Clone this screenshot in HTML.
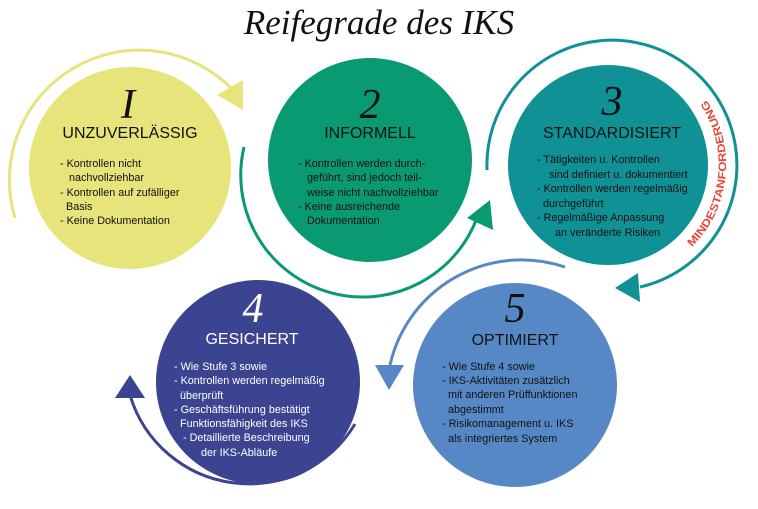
<!DOCTYPE html>
<html><head><meta charset="utf-8"><style>
html,body{margin:0;padding:0;background:#fff;}
svg{display:block;}
.h{font-family:"Liberation Sans",sans-serif;font-size:16px;text-anchor:middle;}
.b{font-family:"Liberation Sans",sans-serif;font-size:10.8px;}
.n{font-family:"Liberation Serif",serif;font-style:italic;font-size:42px;text-anchor:middle;}
</style></head><body>
<svg width="758" height="509" viewBox="0 0 758 509" xmlns="http://www.w3.org/2000/svg">
<text x="379" y="34" text-anchor="middle" font-family="Liberation Serif,serif" font-style="italic" font-size="35" fill="#111">Reifegrade des IKS</text>

<!-- arcs -->
<path d="M15 218 A130 130 0 0 1 233 90" fill="none" stroke="#e6e47a" stroke-width="3"/>
<polygon points="217,95 243,80 243,110" fill="#e6e47a"/>
<path d="M244 147 A122 122 0 0 0 478 215" fill="none" stroke="#0a9a72" stroke-width="3"/>
<polygon points="467,218 490,200 493,230" fill="#0a9a72"/>
<path d="M487 170 A125 125 0 1 1 640 287" fill="none" stroke="#0f9196" stroke-width="3"/>
<polygon points="615,288 638,273 640,302" fill="#0f9196"/>
<path d="M565 267 A135 135 0 0 0 389 370" fill="none" stroke="#5788c6" stroke-width="3"/>
<polygon points="375,365 404,365 389,390" fill="#5788c6"/>
<path d="M355 424 A124 124 0 0 1 130 395" fill="none" stroke="#3b4490" stroke-width="3"/>
<polygon points="115,398 145,398 130,375" fill="#3b4490"/>

<path id="mp" d="M692 247 A116 116 0 0 0 705 98" fill="none"/>
<text font-family="Liberation Sans,sans-serif" font-weight="bold" font-size="11" fill="#e8453c"><textPath href="#mp" textLength="160" lengthAdjust="spacingAndGlyphs">MINDESTANFORDERUNG</textPath></text>

<!-- circles -->
<circle cx="130" cy="168" r="101" fill="#e6e47a"/>
<circle cx="370" cy="160" r="102" fill="#0a9a72"/>
<circle cx="608" cy="165" r="100" fill="#0f9196"/>
<circle cx="258" cy="382" r="102" fill="#3b4490"/>
<circle cx="515" cy="385" r="102" fill="#5788c6"/>

<g fill="#111">
<text class="n" x="128" y="118">I</text>
<text class="h" x="130" y="138">UNZUVERLÄSSIG</text>
<text class="b" xml:space="preserve"><tspan x="60" y="167">- Kontrollen nicht</tspan><tspan x="60" y="181">   nachvollziehbar</tspan><tspan x="60" y="196">- Kontrollen auf zufälliger</tspan><tspan x="60" y="210">  Basis</tspan><tspan x="60" y="224">- Keine Dokumentation</tspan></text>

<text class="n" x="370" y="118">2</text>
<text class="h" x="370" y="138">INFORMELL</text>
<text class="b" xml:space="preserve"><tspan x="298" y="167">- Kontrollen werden durch-</tspan><tspan x="298" y="181">   geführt, sind jedoch teil-</tspan><tspan x="298" y="196">   weise nicht nachvollziehbar</tspan><tspan x="298" y="210">- Keine ausreichende</tspan><tspan x="298" y="224">   Dokumentation</tspan></text>

<text class="n" x="612" y="115">3</text>
<text class="h" x="612" y="138">STANDARDISIERT</text>
<text class="b" xml:space="preserve"><tspan x="537" y="163">- Tätigkeiten u. Kontrollen</tspan><tspan x="537" y="178">    sind definiert u. dokumentiert</tspan><tspan x="537" y="192">- Kontrollen werden regelmäßig</tspan><tspan x="537" y="207">  durchgeführt</tspan><tspan x="537" y="221">- Regelmäßige Anpassung</tspan><tspan x="537" y="236">      an veränderte Risiken</tspan></text>

<text class="n" x="515" y="322">5</text>
<text class="h" x="515" y="345">OPTIMIERT</text>
<text class="b" xml:space="preserve"><tspan x="442" y="370">- Wie Stufe 4 sowie</tspan><tspan x="442" y="384">- IKS-Aktivitäten zusätzlich</tspan><tspan x="442" y="398">  mit anderen Prüffunktionen</tspan><tspan x="442" y="413">  abgestimmt</tspan><tspan x="442" y="427">- Risikomanagement u. IKS</tspan><tspan x="442" y="442">  als integriertes System</tspan></text>
</g>
<g fill="#fff">
<text class="n" x="253" y="322">4</text>
<text class="h" x="252" y="344">GESICHERT</text>
<text class="b" xml:space="preserve"><tspan x="174" y="370">- Wie Stufe 3 sowie</tspan><tspan x="174" y="384">- Kontrollen werden regelmäßig</tspan><tspan x="174" y="399">  überprüft</tspan><tspan x="174" y="413">- Geschäftsführung bestätigt</tspan><tspan x="174" y="427">  Funktionsfähigkeit des IKS</tspan><tspan x="174" y="441">   - Detaillierte Beschreibung</tspan><tspan x="174" y="456">         der IKS-Abläufe</tspan></text>
</g>
</svg>
</body></html>
